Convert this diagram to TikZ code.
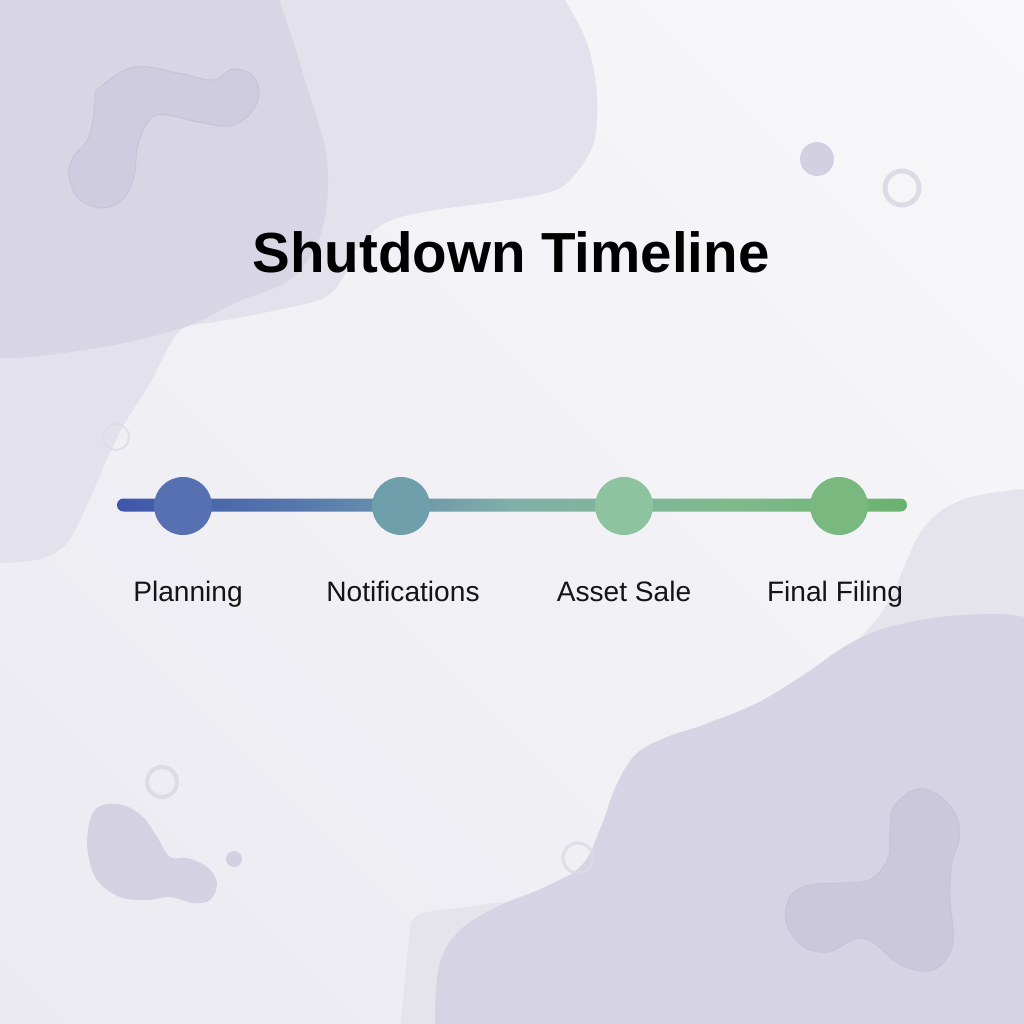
\documentclass[tikz,border=0pt]{standalone}
\usepackage{fontspec}
\setmainfont{Liberation Sans}
\usetikzlibrary{calc,shadings}
\definecolor{bgA}{HTML}{F8F8FA}
\definecolor{bgB}{HTML}{EBEAF1}
\definecolor{blobLight}{HTML}{E3E1EB}
\definecolor{blobDark}{HTML}{D8D5E5}
\definecolor{wormFill}{HTML}{CFCCE0}
\definecolor{wormEdge}{HTML}{C6C3D8}
\definecolor{brLight}{HTML}{E5E3EC}
\definecolor{brDark}{HTML}{D6D3E4}
\definecolor{triFill}{HTML}{CBC8DC}
\definecolor{blFill}{HTML}{D4D1E2}
\definecolor{ringCol}{HTML}{DCDBE6}
\definecolor{dotCol}{HTML}{D3D0E1}
\definecolor{barA}{HTML}{3E56AA}
\definecolor{barA2}{HTML}{5576AC}
\definecolor{barB}{HTML}{80B0A8}
\definecolor{barB2}{HTML}{80BA8C}
\definecolor{barC}{HTML}{6AB26F}
\definecolor{cOne}{HTML}{5670B2}
\definecolor{cTwo}{HTML}{6F9FAA}
\definecolor{cThree}{HTML}{8DC49F}
\definecolor{cFour}{HTML}{79B980}
\pgfdeclarehorizontalshading{barshade}{100bp}{color(0bp)=(barA); color(25bp)=(barA); color(36bp)=(barA2); color(50bp)=(barB); color(64bp)=(barB2); color(75bp)=(barC); color(100bp)=(barC)}
\begin{document}
\begin{tikzpicture}[x=0.025cm,y=-0.025cm,
  stage/.style={circle, minimum size=1.45cm, inner sep=0pt, draw=none},
  lbl/.style={anchor=base, font=\fontsize{20}{24}\selectfont, text=black!92},
  ttl/.style={anchor=base, font=\fontsize{40.2}{48}\selectfont\bfseries, text=black},
  ring/.style={draw=ringCol},
  dot/.style={fill=dotCol}]
\useasboundingbox (0,0) rectangle (1024,1024);
\shade[lower left=bgB, upper right=bgA, upper left=bgA!50!bgB, lower right=bgA!50!bgB] (0,0) rectangle (1024,1024);
\begin{scope}
\clip (0,0) rectangle (1024,1024);
% top-left lighter blob
\fill[blobLight] (-5,-5) -- (565,-5) -- plot[smooth, tension=0.6] coordinates {(565,0) (585,38) (595,77) (597,115) (593,145) (577,172) (553,191) (494,202) (435,210) (387,222) (356,249) (344,276) (324,298) (277,310) (221,321) (186,327) (170,344) (150,383) (126,421) (107,459) (87,505) (67,543) (40,559) (0,563)} -- (-5,563) -- cycle;
% top-left darker blob
\fill[blobDark] (-5,-5) -- (279,-5) -- plot[smooth, tension=0.6] coordinates {(279,0) (292,38) (304,77) (316,115) (326,153) (328,191) (322,230) (308,260) (285,283) (237,302) (190,325) (119,344) (40,356) (0,358)} -- (-5,358) -- cycle;
% worm
\filldraw[fill=wormFill, draw=wormEdge, line width=0.6pt] plot[smooth cycle, tension=0.6] coordinates {(99,88) (134,67) (178,73) (213,80) (233,69) (253,76) (259,96) (249,115) (229,126) (198,122) (166,115) (150,119) (138,145) (134,176) (123,199) (103,208) (79,199) (69,176) (73,157) (87,141) (93,119) (95,100)};
% bottom-right lighter shape
\fill[brLight] (400,1030) -- plot[smooth, tension=0.6] coordinates {(410,930) (420,914) (480,905) (560,890) (620,830) (660,770) (701,726) (767,706) (824,671) (882,612) (921,532) (959,501) (1013,490) (1024,490)} -- (1030,490) -- (1030,1030) -- cycle;
% bottom-right darker blob
\fill[brDark] (435,1030) -- plot[smooth, tension=0.6] coordinates {(435,1024) (439,966) (459,931) (497,907) (547,886) (582,865) (601,827) (616,786) (636,754) (667,737) (709,723) (759,702) (805,674) (844,647) (882,629) (940,617) (998,614) (1024,617)} -- (1030,617) -- (1030,1030) -- cycle;
% tri blob
\filldraw[fill=triFill, draw=wormEdge, line width=0.6pt] plot[smooth cycle, tension=0.6] coordinates {(894,806) (917,789) (940,796) (957,817) (959,841) (952,862) (950,897) (953,942) (940,966) (921,971) (898,963) (863,938) (828,952) (801,945) (786,921) (790,897) (809,885) (844,883) (871,879) (888,858) (890,827)};
% bottom-left blob
\fill[blFill] plot[smooth cycle, tension=0.6] coordinates {(103,805) (123,805) (143,817) (157,837) (170,857) (187,858) (207,867) (217,883) (210,900) (193,903) (170,897) (147,900) (120,897) (97,880) (88,853) (88,830) (93,813)};
% rings and dots
\draw[ring, line width=3.5pt] (902,188) circle (17);
\fill[dot] (817,159) circle (17);
\draw[ring, line width=2.9pt] (162,782) circle (15);
\fill[dot] (234,859) circle (8);
\draw[draw=ringCol!85!black!0!ringCol, line width=1.4pt, opacity=0.8] (116,437) circle (13);
\draw[draw=ringCol, line width=2.2pt, opacity=0.8] (578,858) circle (15);
\end{scope}
% title
\node[ttl] (title) at (511,273) {Shutdown Timeline};
% timeline bar
\coordinate (barL) at (117,505);
\coordinate (barR) at (907,505);
\shade[shading=barshade, rounded corners=4.5pt] ($(barL)+(0,-6.5)$) rectangle ($(barR)+(0,6.5)$);
% stages
\node[stage, fill=cOne] (planning) at (183,506) {};
\node[stage, fill=cTwo] (notif) at (401,506) {};
\node[stage, fill=cThree] (asset) at (624,506) {};
\node[stage, fill=cFour] (final) at (839,506) {};
% labels
\node[lbl] (planningL) at (188,601) {Planning};
\node[lbl] (notifL) at (403,601) {Notifications};
\node[lbl] (assetL) at (624,601) {Asset Sale};
\node[lbl] (finalL) at (835,601) {Final Filing};
\end{tikzpicture}
\end{document}
